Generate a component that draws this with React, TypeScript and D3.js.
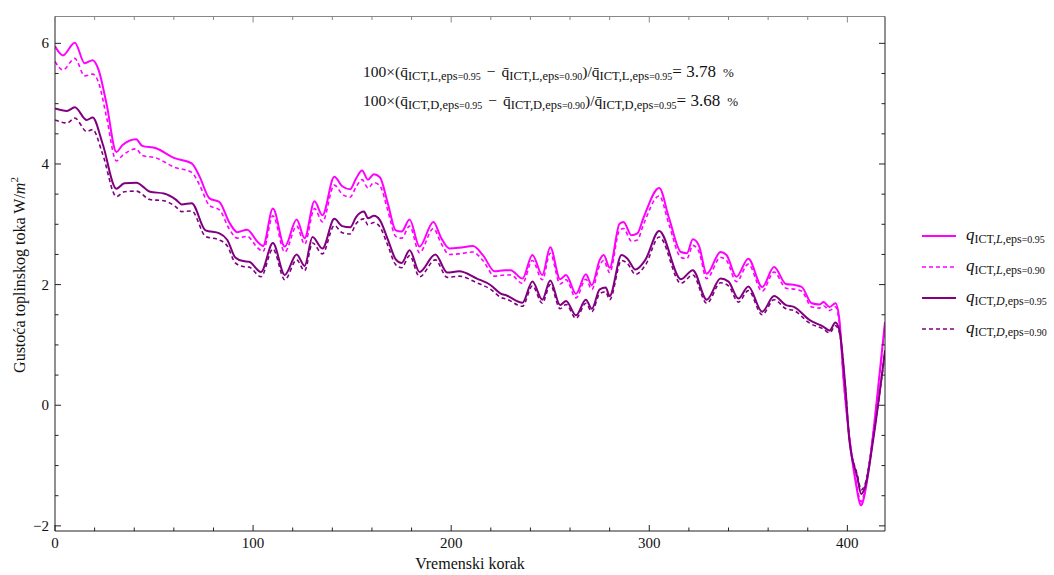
import React from "react";
import * as d3 from "d3";

// ---- data ----
const stepsL = [0,4,10,15,19,22,26,31,34,41,44,51,60,69,73,78,83,88,92,97,102,105,110,116,122,126,131,135,141,145,149,152,155,158,161,164,168,172,175,179,184,191,195,199,204,211,216,222,227,230,236,241,246,250,255,258,263,268,271,275,277,280,285,287,291,294,297,305,310,316,319,322,325,329,336,339,344,350,357,363,369,374,377,382,386,388,391,394,396,398,401,404,407,408,411,414,419];
const qL95 = [5.95,5.80,6.01,5.67,5.72,5.56,5.00,4.20,4.31,4.41,4.30,4.26,4.10,4.01,3.79,3.43,3.37,3.03,2.87,2.91,2.72,2.64,3.26,2.63,3.08,2.77,3.38,3.15,3.79,3.63,3.58,3.76,3.89,3.74,3.83,3.78,3.35,2.90,2.88,3.08,2.63,3.04,2.77,2.60,2.61,2.64,2.49,2.22,2.24,2.24,2.10,2.49,2.16,2.62,2.09,2.16,1.85,2.17,1.99,2.41,2.49,2.28,3.01,3.04,2.82,2.85,3.10,3.60,3.10,2.54,2.52,2.75,2.65,2.18,2.54,2.49,2.13,2.43,1.96,2.29,2.01,1.99,1.96,1.69,1.67,1.71,1.63,1.69,1.41,0.47,-0.53,-1.24,-1.66,-1.58,-1.02,-0.19,1.38];
const qL90 = [5.70,5.56,5.75,5.46,5.49,5.35,4.78,4.05,4.14,4.25,4.14,4.10,3.95,3.86,3.65,3.31,3.24,2.92,2.77,2.80,2.62,2.55,3.14,2.54,2.97,2.67,3.26,3.04,3.65,3.50,3.45,3.62,3.74,3.60,3.69,3.64,3.23,2.80,2.77,2.97,2.53,2.93,2.68,2.50,2.51,2.54,2.40,2.14,2.16,2.16,2.02,2.40,2.08,2.52,2.01,2.08,1.78,2.09,1.92,2.32,2.40,2.20,2.90,2.93,2.72,2.74,2.99,3.47,2.99,2.45,2.43,2.65,2.55,2.10,2.45,2.40,2.05,2.34,1.89,2.21,1.94,1.92,1.89,1.63,1.61,1.65,1.57,1.63,1.36,0.45,-0.51,-1.19,-1.60,-1.52,-0.98,-0.18,1.33];

const stepsD = [0,6,10,16,19,24,31,35,41,48,55,61,64,69,76,83,87,91,95,98,104,110,116,122,126,130,135,141,145,149,152,156,158,161,164,168,172,175,179,184,192,198,204,213,220,225,228,236,241,246,250,255,258,263,268,271,275,278,280,286,289,293,298,305,316,322,329,336,340,345,350,357,363,369,373,381,388,391,394,396,399,401,405,407,409,413,419];
const qD95 = [4.92,4.88,4.94,4.73,4.77,4.34,3.59,3.68,3.69,3.54,3.51,3.41,3.33,3.35,2.90,2.85,2.74,2.45,2.39,2.38,2.21,2.69,2.16,2.50,2.31,2.79,2.60,3.09,2.97,2.95,3.12,3.21,3.10,3.14,3.07,2.75,2.42,2.36,2.57,2.21,2.50,2.20,2.22,2.10,1.99,1.85,1.82,1.70,2.05,1.75,2.07,1.66,1.73,1.49,1.75,1.60,1.92,1.95,1.81,2.49,2.43,2.25,2.41,2.89,2.09,2.24,1.75,2.10,2.05,1.77,1.97,1.55,1.81,1.66,1.63,1.41,1.30,1.24,1.37,1.24,0.30,-0.58,-1.19,-1.47,-1.35,-0.58,0.91];
const qD90 = [4.73,4.68,4.76,4.54,4.57,4.17,3.46,3.54,3.55,3.41,3.39,3.29,3.21,3.22,2.80,2.74,2.64,2.36,2.30,2.29,2.13,2.59,2.08,2.41,2.23,2.69,2.51,2.98,2.86,2.84,3.01,3.09,2.99,3.03,2.96,2.65,2.33,2.28,2.48,2.13,2.41,2.12,2.14,2.03,1.92,1.79,1.76,1.64,1.98,1.69,2.00,1.60,1.67,1.44,1.69,1.55,1.85,1.88,1.75,2.40,2.35,2.17,2.32,2.79,2.02,2.16,1.69,2.03,1.98,1.71,1.90,1.50,1.75,1.60,1.57,1.36,1.26,1.20,1.32,1.20,0.29,-0.56,-1.15,-1.40,-1.30,-0.56,0.88];

const xMajorTicks = [0, 100, 200, 300, 400];
const yMajorTicks = [-2, 0, 2, 4, 6];
const xMinorTicks = [20, 40, 60, 80, 120, 140, 160, 180, 220, 240, 260, 280, 320, 340, 360, 380, 420];
const yMinorTicks = [-1.5, -1, -0.5, 0.5, 1, 1.5, 2.5, 3, 3.5, 4.5, 5, 5.5];

const seriesDefs = [
  { letter: "L", eps: "0.95", steps: stepsL, values: qL95, color: "#ff00ff", dash: null },
  { letter: "L", eps: "0.90", steps: stepsL, values: qL90, color: "#ff00ff", dash: "4,3" },
  { letter: "D", eps: "0.95", steps: stepsD, values: qD95, color: "#800080", dash: null },
  { letter: "D", eps: "0.90", steps: stepsD, values: qD90, color: "#800080", dash: "4,3" },
];

const annotationRows = [
  { letter: "L", pct: "3.78" },
  { letter: "D", pct: "3.68" },
];

const xLabel = "Vremenski korak";
const yLabelMain = "Gustoća toplinskog toka W/";

const FONT = "'Liberation Serif', 'Times New Roman', serif";

export default function App() {
  const left = 55, right = 885, top = 16.5, bottom = 531;
  const x = d3.scaleLinear().domain([0, 419]).range([left, right]);
  const y = d3.scaleLinear().domain([-2.085, 6.445]).range([bottom, top]);

  const line = (steps: number[], vals: number[]) =>
    d3
      .line<number>()
      .x((_, i) => x(steps[i]))
      .y((v) => y(v))
      .curve(d3.curveMonotoneX)(vals) || "";

  const frame = "#222";

  return (
    <svg
      width={1054}
      height={575}
      style={{ position: "absolute", left: 0, top: 0, background: "#fff" }}
      fontFamily={FONT}
    >
      <defs>
        <clipPath id="plotclip">
          <rect x={left} y={top} width={right - left} height={bottom - top} />
        </clipPath>
      </defs>
      <rect x={0} y={0} width={1054} height={575} fill="#fff" />

      {/* series */}
      <g clipPath="url(#plotclip)">
        {seriesDefs.map((s, i) => (
          <path
            key={i}
            d={line(s.steps, s.values)}
            fill="none"
            stroke={s.color}
            strokeWidth={s.dash ? 1.6 : 2}
            strokeDasharray={s.dash || undefined}
            strokeLinejoin="round"
          />
        ))}
      </g>

      {/* frame */}
      <line x1={left} x2={right} y1={top} y2={top} stroke="#888" strokeWidth={1} />
      <line x1={left} x2={left} y1={top} y2={bottom} stroke={frame} strokeWidth={1} />
      <line x1={right} x2={right} y1={top} y2={bottom} stroke={frame} strokeWidth={1} />
      <line x1={left} x2={right} y1={bottom} y2={bottom} stroke={frame} strokeWidth={1} />

      {/* x ticks */}
      {xMajorTicks.map((t) => (
        <g key={"xM" + t}>
          <line x1={x(t)} x2={x(t)} y1={bottom} y2={bottom - 6} stroke={frame} />
          <line x1={x(t)} x2={x(t)} y1={top} y2={top + 6} stroke="#888" />
          <text x={x(t)} y={548} textAnchor="middle" fontSize={15} fill="#111">
            {t}
          </text>
        </g>
      ))}
      {xMinorTicks.filter((t) => t <= 419).map((t) => (
        <g key={"xm" + t}>
          <line x1={x(t)} x2={x(t)} y1={bottom} y2={bottom - 3.5} stroke={frame} />
          <line x1={x(t)} x2={x(t)} y1={top} y2={top + 3.5} stroke="#888" />
        </g>
      ))}

      {/* y ticks */}
      {yMajorTicks.map((t) => (
        <g key={"yM" + t}>
          <line x1={left} x2={left + 6} y1={y(t)} y2={y(t)} stroke={frame} />
          <line x1={right} x2={right - 6} y1={y(t)} y2={y(t)} stroke={frame} />
          <text x={49} y={y(t) + 5} textAnchor="end" fontSize={15} fill="#111">
            {t < 0 ? "\u2212" + Math.abs(t) : t}
          </text>
        </g>
      ))}
      {yMinorTicks.map((t) => (
        <g key={"ym" + t}>
          <line x1={left} x2={left + 3.5} y1={y(t)} y2={y(t)} stroke={frame} />
          <line x1={right} x2={right - 3.5} y1={y(t)} y2={y(t)} stroke={frame} />
        </g>
      ))}

      {/* axis labels */}
      <text x={470} y={569} textAnchor="middle" fontSize={16} fill="#111">
        {xLabel}
      </text>
      <text
        transform={`translate(25, 275) rotate(-90)`}
        textAnchor="middle"
        fontSize={16}
        fill="#111"
      >
        {yLabelMain}
        <tspan fontStyle="italic">m</tspan>
        <tspan fontSize={11} dy={-7}>2</tspan>
      </text>

      {/* annotation */}
      {annotationRows.map((r, i) => (
        <text key={"ann" + i} x={363} y={77 + i * 29} fontSize={15.5} fill="#111">
          <tspan>100×(q{"\u0304"}</tspan>
          <tspan fontSize={12.5} dy={3}>{`ICT,${r.letter},eps`}</tspan>
          <tspan fontSize={10}>=0.95</tspan>
          <tspan fontSize={15.5} dy={-3} dx={6}>{"\u2212"}</tspan>
          <tspan fontSize={15.5} dx={6}>{"q\u0304"}</tspan>
          <tspan fontSize={12.5} dy={3}>{`ICT,${r.letter},eps`}</tspan>
          <tspan fontSize={10}>=0.90</tspan>
          <tspan fontSize={15.5} dy={-3}>{")/q\u0304"}</tspan>
          <tspan fontSize={12.5} dy={3}>{`ICT,${r.letter},eps`}</tspan>
          <tspan fontSize={10}>=0.95</tspan>
          <tspan fontSize={17} dy={-3}>{`= ${r.pct}`}</tspan>
          <tspan fontSize={13} dx={7}>%</tspan>
        </text>
      ))}

      {/* legend */}
      {seriesDefs.map((s, i) => {
        const ly = 236 + i * 31;
        return (
          <g key={"leg" + i}>
            <line
              x1={922}
              x2={956}
              y1={ly}
              y2={ly}
              stroke={s.color}
              strokeWidth={s.dash ? 1.6 : 2}
              strokeDasharray={s.dash || undefined}
            />
            <text x={966} y={ly + 4} fill="#111">
              <tspan fontSize={17} fontStyle="italic">q</tspan>
              <tspan fontSize={12} dy={3}>ICT,</tspan>
              <tspan fontSize={12} fontStyle="italic">{s.letter}</tspan>
              <tspan fontSize={12}>,eps</tspan>
              <tspan fontSize={10}>{"=" + s.eps}</tspan>
            </text>
          </g>
        );
      })}
    </svg>
  );
}
